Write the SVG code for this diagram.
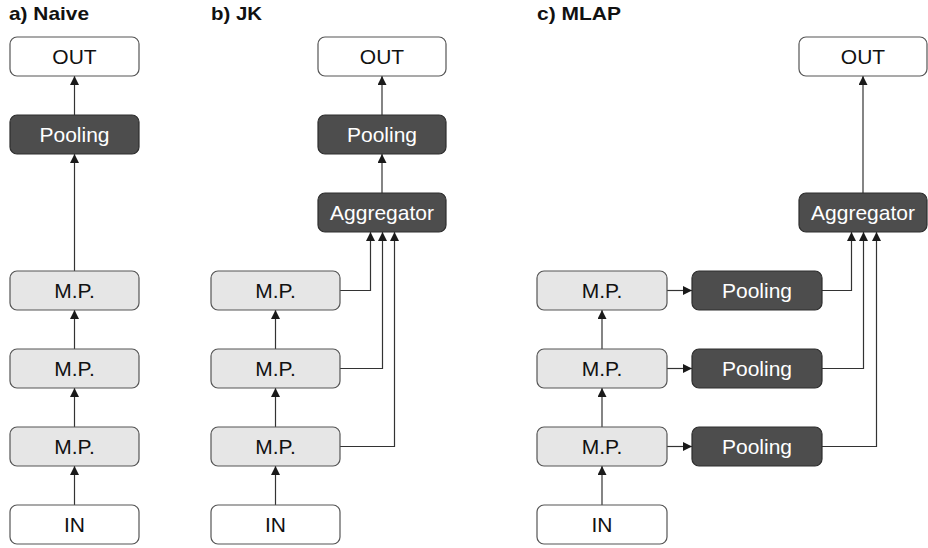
<svg xmlns="http://www.w3.org/2000/svg" width="928" height="548" viewBox="0 0 928 548">
<defs>
<marker id="ah" viewBox="0 0 10 10" refX="10" refY="5" markerWidth="9" markerHeight="9" markerUnits="userSpaceOnUse" orient="auto">
<path d="M0,0 L10,5 L0,10 z" fill="#1a1a1a"/>
</marker>
<style>
.lt{fill:#e6e6e6;stroke:#555;stroke-width:1.2}
.wh{fill:#fff;stroke:#555;stroke-width:1.2}
.dk{fill:#4d4d4d;stroke:#2e2e2e;stroke-width:1.2}
.t{font-family:"Liberation Sans",Arial,sans-serif;font-size:21px;text-anchor:middle;dominant-baseline:central}
.tb{fill:#111}
.tw{fill:#fff}
.h{font-family:"Liberation Sans",Arial,sans-serif;font-size:18.5px;font-weight:bold;fill:#111}
.ca{fill:none;stroke:#333;stroke-width:1.2;marker-end:url(#ah)}
</style>
</defs>
<rect width="928" height="548" fill="#fff"/>
<text class="h" x="9" y="19.5" textLength="80" lengthAdjust="spacingAndGlyphs">a) Naive</text>
<text class="h" x="211" y="19.5" textLength="51" lengthAdjust="spacingAndGlyphs">b) JK</text>
<text class="h" x="537" y="19.5" textLength="84" lengthAdjust="spacingAndGlyphs">c) MLAP</text>

<g id="connectors">
<!-- a -->
<line class="ca" x1="74.5" y1="505" x2="74.5" y2="466"/>
<line class="ca" x1="74.5" y1="427" x2="74.5" y2="388"/>
<line class="ca" x1="74.5" y1="349" x2="74.5" y2="310"/>
<line class="ca" x1="74.5" y1="271" x2="74.5" y2="154"/>
<line class="ca" x1="74.5" y1="115" x2="74.5" y2="76"/>
<!-- b -->
<line class="ca" x1="275.5" y1="505" x2="275.5" y2="466"/>
<line class="ca" x1="275.5" y1="427" x2="275.5" y2="388"/>
<line class="ca" x1="275.5" y1="349" x2="275.5" y2="310"/>
<polyline class="ca" points="340,290.5 370.5,290.5 370.5,232"/>
<polyline class="ca" points="340,368.5 382.5,368.5 382.5,232"/>
<polyline class="ca" points="340,446.5 394.5,446.5 394.5,232"/>
<line class="ca" x1="382" y1="193" x2="382" y2="154"/>
<line class="ca" x1="382" y1="115" x2="382" y2="76"/>
<!-- c -->
<line class="ca" x1="602" y1="505" x2="602" y2="466"/>
<line class="ca" x1="602" y1="427" x2="602" y2="388"/>
<line class="ca" x1="602" y1="349" x2="602" y2="310"/>
<line class="ca" x1="667" y1="290.5" x2="692" y2="290.5"/>
<line class="ca" x1="667" y1="368.5" x2="692" y2="368.5"/>
<line class="ca" x1="667" y1="446.5" x2="692" y2="446.5"/>
<polyline class="ca" points="822,290.5 851.5,290.5 851.5,232"/>
<polyline class="ca" points="822,368.5 863.5,368.5 863.5,232"/>
<polyline class="ca" points="822,446.5 876.5,446.5 876.5,232"/>
<line class="ca" x1="863" y1="193" x2="863" y2="76"/>
</g>

<!-- panel a -->
<g id="a_out"><rect class="wh" x="10" y="37" width="129" height="39" rx="7"/><text class="t tb" x="74.5" y="56.5">OUT</text></g>
<g id="a_pool"><rect class="dk" x="10" y="115" width="129" height="39" rx="7"/><text class="t tw" x="74.5" y="134.5">Pooling</text></g>
<g id="a_mp3"><rect class="lt" x="10" y="271" width="129" height="39" rx="7"/><text class="t tb" x="74.5" y="290.5">M.P.</text></g>
<g id="a_mp2"><rect class="lt" x="10" y="349" width="129" height="39" rx="7"/><text class="t tb" x="74.5" y="368.5">M.P.</text></g>
<g id="a_mp1"><rect class="lt" x="10" y="427" width="129" height="39" rx="7"/><text class="t tb" x="74.5" y="446.5">M.P.</text></g>
<g id="a_in"><rect class="wh" x="10" y="505" width="129" height="39" rx="7"/><text class="t tb" x="74.5" y="524.5">IN</text></g>

<!-- panel b -->
<g id="b_out"><rect class="wh" x="318" y="37" width="128" height="39" rx="7"/><text class="t tb" x="382" y="56.5">OUT</text></g>
<g id="b_pool"><rect class="dk" x="318" y="115" width="128" height="39" rx="7"/><text class="t tw" x="382" y="134.5">Pooling</text></g>
<g id="b_agg"><rect class="dk" x="318" y="193" width="128" height="39" rx="7"/><text class="t tw" x="382" y="212.5">Aggregator</text></g>
<g id="b_mp3"><rect class="lt" x="211" y="271" width="129" height="39" rx="7"/><text class="t tb" x="275.5" y="290.5">M.P.</text></g>
<g id="b_mp2"><rect class="lt" x="211" y="349" width="129" height="39" rx="7"/><text class="t tb" x="275.5" y="368.5">M.P.</text></g>
<g id="b_mp1"><rect class="lt" x="211" y="427" width="129" height="39" rx="7"/><text class="t tb" x="275.5" y="446.5">M.P.</text></g>
<g id="b_in"><rect class="wh" x="211" y="505" width="129" height="39" rx="7"/><text class="t tb" x="275.5" y="524.5">IN</text></g>

<!-- panel c -->
<g id="c_out"><rect class="wh" x="799" y="37" width="128" height="39" rx="7"/><text class="t tb" x="863" y="56.5">OUT</text></g>
<g id="c_agg"><rect class="dk" x="799" y="193" width="128" height="39" rx="7"/><text class="t tw" x="863" y="212.5">Aggregator</text></g>
<g id="c_mp3"><rect class="lt" x="537" y="271" width="130" height="39" rx="7"/><text class="t tb" x="602" y="290.5">M.P.</text></g>
<g id="c_mp2"><rect class="lt" x="537" y="349" width="130" height="39" rx="7"/><text class="t tb" x="602" y="368.5">M.P.</text></g>
<g id="c_mp1"><rect class="lt" x="537" y="427" width="130" height="39" rx="7"/><text class="t tb" x="602" y="446.5">M.P.</text></g>
<g id="c_in"><rect class="wh" x="537" y="505" width="130" height="39" rx="7"/><text class="t tb" x="602" y="524.5">IN</text></g>
<g id="c_pool3"><rect class="dk" x="692" y="271" width="130" height="39" rx="7"/><text class="t tw" x="757" y="290.5">Pooling</text></g>
<g id="c_pool2"><rect class="dk" x="692" y="349" width="130" height="39" rx="7"/><text class="t tw" x="757" y="368.5">Pooling</text></g>
<g id="c_pool1"><rect class="dk" x="692" y="427" width="130" height="39" rx="7"/><text class="t tw" x="757" y="446.5">Pooling</text></g>
</svg>
